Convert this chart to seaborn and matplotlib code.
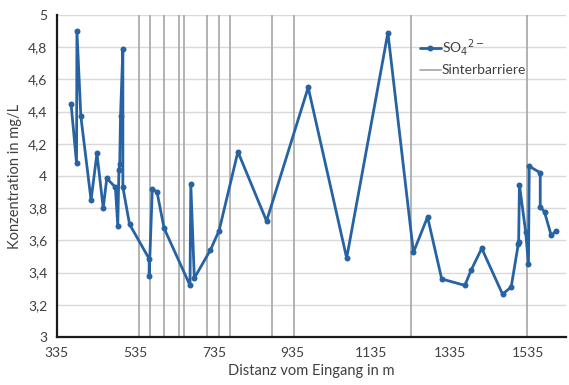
import pandas as pd
import matplotlib.pyplot as plt
import seaborn as sns
from matplotlib.ticker import FuncFormatter

distanz = [371, 385, 386, 396, 422, 437, 453, 462, 484, 490,
           493, 495, 497, 503, 503, 520, 570, 570, 578, 590,
           608, 674, 676, 685, 726, 748, 796, 869, 975, 1073,
           1178, 1243, 1279, 1315, 1374, 1390, 1417, 1470, 1492, 1510,
           1511, 1513, 1529, 1536, 1538, 1566, 1566, 1577, 1594, 1605]
sulfat = [4.45, 4.08, 4.90, 4.37, 3.85, 4.14, 3.80, 3.985, 3.93, 3.69,
          4.04, 4.075, 4.37, 4.79, 3.93, 3.70, 3.485, 3.38, 3.92, 3.90,
          3.675, 3.32, 3.95, 3.365, 3.54, 3.66, 4.15, 3.72, 4.55, 3.49,
          4.89, 3.525, 3.745, 3.36, 3.32, 3.415, 3.55, 3.265, 3.31, 3.575,
          3.59, 3.945, 3.65, 3.45, 4.06, 4.02, 3.81, 3.775, 3.63, 3.655]

# Positionen der Sinterbarrieren
barrieren = [543, 572, 608, 646, 658, 717, 747, 776, 883, 938, 1237, 1532]

x_ticks = [335, 535, 735, 935, 1135, 1335, 1535]
y_ticks = [3.0, 3.2, 3.4, 3.6, 3.8, 4.0, 4.2, 4.4, 4.6, 4.8, 5.0]

df = pd.DataFrame({'Distanz': distanz, 'SO4': sulfat})

sns.set_style('white')
plt.rcParams['font.family'] = ['Lato', 'DejaVu Sans']

fig, ax = plt.subplots(figsize=(5.69, 3.85), dpi=100)
fig.subplots_adjust(left=0.100, right=0.995, top=0.961, bottom=0.125)

ax.set_axisbelow(True)
ax.yaxis.grid(True, color='#d9d9d9', linewidth=1.0)

for i, b in enumerate(barrieren):
    ax.axvline(b, color='#a6a6a6', linewidth=1.2, zorder=1,
               label='Sinterbarriere' if i == 0 else None)

so4_label = 'SO$_4$$^{2\u2212}$'
sns.lineplot(data=df, x='Distanz', y='SO4', sort=False, estimator=None,
             color='#2763a3', linewidth=2.0, marker='o', markersize=4.3,
             markeredgewidth=0, label=so4_label, ax=ax, zorder=3)

ax.set_xlim(335, 1632)
ax.set_ylim(3, 5)
ax.set_xticks(x_ticks)
ax.set_yticks(y_ticks)
ax.yaxis.set_major_formatter(FuncFormatter(lambda v, p: f'{v:g}'.replace('.', ',')))

for s in ['top', 'right']:
    ax.spines[s].set_visible(False)
for s in ['left', 'bottom']:
    ax.spines[s].set_color('#1a1a1a')
    ax.spines[s].set_linewidth(1.6)
ax.tick_params(axis='both', direction='out', length=4, width=1, color='#404040',
               labelsize=10, labelcolor='#404040', pad=3)

ax.set_xlabel('Distanz vom Eingang in m', fontsize=10.5, color='#404040', labelpad=4)
ax.set_ylabel('Konzentration in mg/L', fontsize=10.5, color='#404040', labelpad=4)

# Reihenfolge der Legende: SO4 zuerst
handles, labels = ax.get_legend_handles_labels()
order = [labels.index(so4_label), labels.index('Sinterbarriere')]
ax.legend([handles[i] for i in order], [labels[i] for i in order],
          loc='upper left', bbox_to_anchor=(0.688, 0.97), frameon=False,
          fontsize=10, handlelength=1.5, handletextpad=0.1, labelspacing=0.45,
          labelcolor='#404040')

plt.savefig('out.png', dpi=100)
